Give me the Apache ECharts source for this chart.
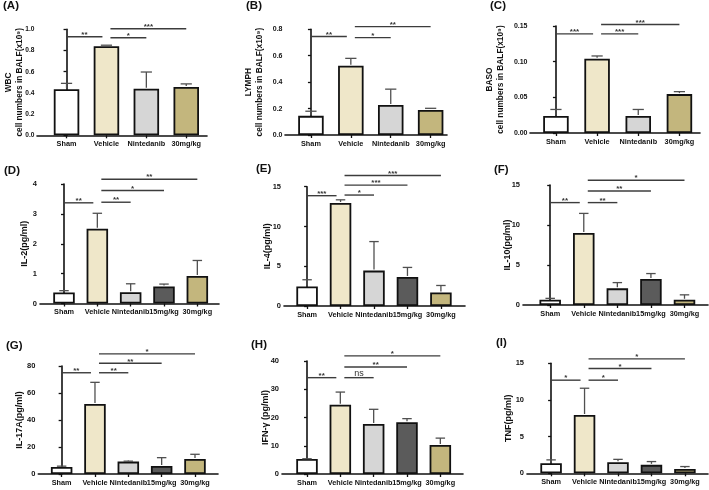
<!DOCTYPE html>
<html><head><meta charset="utf-8">
<script src="https://cdn.jsdelivr.net/npm/echarts@6/dist/echarts.min.js"></script>
<style>html,body{margin:0;padding:0;background:#fff}#c{width:709px;height:490px}</style>
</head><body><div id="c"></div>
<script>
// ---------- DATA ----------
const groups4 = ['Sham', 'Vehicle', 'Nintedanib', '30mg/kg'];
const groups5 = ['Sham', 'Vehicle', 'Nintedanib', '15mg/kg', '30mg/kg'];

const wbcMean = [0.435, 0.84, 0.44, 0.455];
const wbcSD   = [0.055, 0.01, 0.157, 0.03];
const wbcSig  = [[0, 1, 0.93, '**'], [1, 2, 0.92, '*'], [1, 3, 1.005, '***']];

const lymphMean = [0.145, 0.525, 0.227, 0.19];
const lymphSD   = [0.035, 0.055, 0.12, 0.012];
const lymphSig  = [[0, 1, 0.745, '**'], [1, 2, 0.737, '*'], [1, 3, 0.82, '**']];

const basoMean = [0.024, 0.104, 0.024, 0.0545];
const basoSD   = [0.009, 0.004, 0.009, 0.0035];
const basoSig  = [[0, 1, 0.139, '***'], [1, 2, 0.139, '***'], [1, 3, 0.152, '***']];

const il2Mean = [0.37, 2.5, 0.38, 0.57, 0.92];
const il2SD   = [0.06, 0.52, 0.28, 0.08, 0.52];
const il2Sig  = [[0, 1, 3.37, '**'], [1, 2, 3.39, '**'], [1, 3, 3.78, '*'], [1, 4, 4.16, '**']];

const il4Mean = [2.45, 12.95, 4.45, 3.65, 1.7];
const il4SD   = [0.85, 0.4, 3.65, 1.2, 0.88];
const il4Sig  = [[0, 1, 13.87, '***'], [1, 2, 13.95, '*'], [1, 3, 15.2, '***'], [1, 4, 16.4, '***']];

const il10Mean = [0.65, 9.0, 2.08, 3.25, 0.65];
const il10SD   = [0.18, 2.45, 0.72, 0.68, 0.62];
const il10Sig  = [[0, 1, 12.8, '**'], [1, 2, 12.8, '**'], [1, 3, 14.25, '**'], [1, 4, 15.6, '*']];

const il17Mean = [5.2, 51.8, 9.2, 5.9, 11.1];
const il17SD   = [0.6, 16.1, 0.3, 6.2, 3.5];
const il17Sig  = [[0, 1, 75, '**'], [1, 2, 75, '**'], [1, 3, 82, '**'], [1, 4, 89, '*']];

const ifnMean = [5.3, 24.5, 17.7, 18.3, 10.3];
const ifnSD   = [0.1, 4.5, 5.2, 1.3, 2.4];
const ifnSig  = [[0, 1, 34.1, '**'], [1, 2, 34.1, 'ns'], [1, 3, 37.9, '**'], [1, 4, 41.8, '*']];

const tnfMean = [1.38, 7.95, 1.5, 1.15, 0.6];
const tnfSD   = [0.45, 3.65, 0.4, 0.45, 0.32];
const tnfSig  = [[0, 1, 12.7, '*'], [1, 2, 12.7, '*'], [1, 3, 14.3, '*'], [1, 4, 15.6, '*']];

const panelTitles = ['(A)', '(B)', '(C)', '(D)', '(E)', '(F)', '(G)', '(H)', '(I)'];
const yNames = [
  'WBC\ncell numbers in BALF(x10\u2079)',
  'LYMPH\ncell numbers in BALF(x10\u2079)',
  'BASO\ncell numbers in BALF(x10\u2079)',
  'IL-2(pg/ml)', 'IL-4(pg/ml)', 'IL-10(pg/ml)',
  'IL-17A(pg/ml)', 'IFN-\u03b3 (pg/ml)', 'TNF(pg/ml)'
];
// y axis tick setup: [max, step, decimals]
const yTicks = [[1.0, 0.2, 1], [0.8, 0.2, 1], [0.15, 0.05, 2], [4, 1, 0], [15, 5, 0], [15, 5, 0], [80, 20, 0], [40, 10, 0], [15, 5, 0]];

// ---------- STYLE / LAYOUT ----------
const colors4 = ['#ffffff', '#efe7c9', '#d6d6d6', '#c3b67d'];
const colors5 = ['#ffffff', '#efe7c9', '#d6d6d6', '#5b5b5b', '#c3b67d'];
const FONT = '"Liberation Sans", Arial, sans-serif';

const panelData = [
  [groups4, wbcMean, wbcSD, wbcSig],
  [groups4, lymphMean, lymphSD, lymphSig],
  [groups4, basoMean, basoSD, basoSig],
  [groups5, il2Mean, il2SD, il2Sig],
  [groups5, il4Mean, il4SD, il4Sig],
  [groups5, il10Mean, il10SD, il10Sig],
  [groups5, il17Mean, il17SD, il17Sig],
  [groups5, ifnMean, ifnSD, ifnSig],
  [groups5, tnfMean, tnfSD, tnfSig]
];
// layout: [left, right, top, bottom, xmin, xmax, barWidth, titleX, titleY, nameGap, tickFont]
const layout = [
  [37, 207, 29.3, 135.3, -0.74, 3.52, 25.5, 3, 0, 11.5, 6.6],
  [285, 447, 29.3, 135, -0.65, 3.41, 25.5, 246, 0, 19.5, 7],
  [530, 700, 26, 133, -0.63, 3.5, 25.5, 490, 0, 23.5, 7],
  [40, 219, 184, 303.5, -0.72, 4.65, 21.5, 4, 165, 9.5, 7.5],
  [284, 465, 186.7, 306, -0.69, 4.72, 21.5, 256, 163, 11, 7.5],
  [523, 708, 185, 305, -0.81, 4.7, 21.5, 494, 164, 10, 7.5],
  [38.3, 218, 366, 474, -0.70, 4.69, 21.5, 6, 340, 13.3, 7.5],
  [282, 463, 361, 474, -0.75, 4.68, 21.5, 251, 339, 11, 7.5],
  [527, 708, 363.3, 473.3, -0.72, 4.69, 21.5, 496, 337, 12.5, 7.5]
];

const grid = [], xAxis = [], yAxis = [], series = [], title = [];

panelData.forEach((pd, i) => {
  const [cats, mean, sd, sig] = pd;
  const L = layout[i];
  const cols = cats.length === 4 ? colors4 : colors5;
  const idxs = cats.map((c, j) => j);
  grid.push({ left: L[0], top: L[2], width: L[1] - L[0], height: L[3] - L[2] });
  title.push({ text: panelTitles[i], left: L[7], top: L[8], padding: 0,
    textStyle: { fontSize: 11.5, fontWeight: 'bold', fontFamily: FONT, color: '#111' } });
  xAxis.push({
    gridIndex: i, type: 'value', min: L[4], max: L[5],
    splitLine: { show: false },
    axisLine: { show: true, onZero: false, lineStyle: { color: '#111', width: 1.6 } },
    axisTick: { show: true, customValues: idxs, length: 3, lineStyle: { color: '#111', width: 1.3 } },
    axisLabel: { customValues: idxs, hideOverlap: false, margin: 5,
      formatter: v => cats[Math.round(v)],
      fontSize: 7.3, fontWeight: 'bold', fontFamily: FONT, color: '#111' }
  });
  const yt = yTicks[i];
  yAxis.push({
    gridIndex: i, type: 'value', min: 0, max: yt[0], interval: yt[1],
    splitLine: { show: false },
    axisLine: { show: true, lineStyle: { color: '#111', width: 1.6 } },
    axisTick: { show: true, length: 3, lineStyle: { color: '#111', width: 1.3 } },
    axisLabel: { margin: i < 3 ? 2.5 : 3, formatter: v => v.toFixed(yt[2]),
      fontSize: L[10], fontWeight: 'bold', fontFamily: FONT, color: '#111' },
    name: yNames[i], nameLocation: 'middle', nameRotate: 90, nameGap: L[9],
    nameMoveOverlap: false,
    nameTextStyle: { fontSize: i < 3 ? 8.3 : 9, fontWeight: 'bold', fontFamily: FONT, color: '#111', lineHeight: 11 }
  });
  const bw = L[6];
  series.push({
    type: 'bar', xAxisIndex: i, yAxisIndex: i, barWidth: bw, z: 2,
    data: mean.map((v, j) => ({ value: [j, v], itemStyle: { color: cols[j] } })),
    itemStyle: { borderColor: '#111', borderWidth: 1.8 },
    emphasis: { disabled: true }, silent: true
  });
  const capHalf = bw * 0.22;
  series.push({
    type: 'custom', xAxisIndex: i, yAxisIndex: i, z: 3, clip: false, silent: true,
    data: mean.map((v, j) => [j, v, v + sd[j]]),
    encode: { x: 0, y: [1, 2] },
    renderItem: (params, api) => {
      const b = api.coord([api.value(0), api.value(1)]);
      const t = api.coord([api.value(0), api.value(2)]);
      const st = { stroke: '#505050', lineWidth: 1.3 };
      return { type: 'group', children: [
        { type: 'line', shape: { x1: b[0], y1: b[1] - 1, x2: t[0], y2: t[1] }, style: st },
        { type: 'line', shape: { x1: t[0] - capHalf, y1: t[1], x2: t[0] + capHalf, y2: t[1] }, style: st }
      ] };
    }
  });
  series.push({
    type: 'custom', xAxisIndex: i, yAxisIndex: i, z: 4, clip: false, silent: true,
    data: sig.map(s => [s[0], s[1], s[2]]),
    encode: { x: [0, 1], y: 2 },
    renderItem: (params, api) => {
      const s = sig[params.dataIndex];
      const p1 = api.coord([s[0], s[2]]);
      const p2 = api.coord([s[1], s[2]]);
      let x1 = p1[0], x2 = p2[0];
      if (s[1] === 1) x2 -= 4;
      if (s[0] === 1) x1 += 4;
      const y = p1[1];
      return { type: 'group', children: [
        { type: 'line', shape: { x1: x1, y1: y, x2: x2, y2: y }, style: { stroke: '#3c3c3c', lineWidth: 1.4 } },
        { type: 'text', x: (x1 + x2) / 2, y: s[3] === 'ns' ? y + 0.5 : y + 2,
          style: { text: s[3], align: 'center', verticalAlign: 'bottom',
            font: (s[3] === 'ns' ? 'normal 9px ' : 'bold 8px ') + FONT, fill: '#333' } }
      ] };
    }
  });
});

const chart = echarts.init(document.getElementById('c'), null, { renderer: 'canvas' });
chart.setOption({ animation: false, backgroundColor: '#ffffff', title, grid, xAxis, yAxis, series });
</script>
</body></html>
